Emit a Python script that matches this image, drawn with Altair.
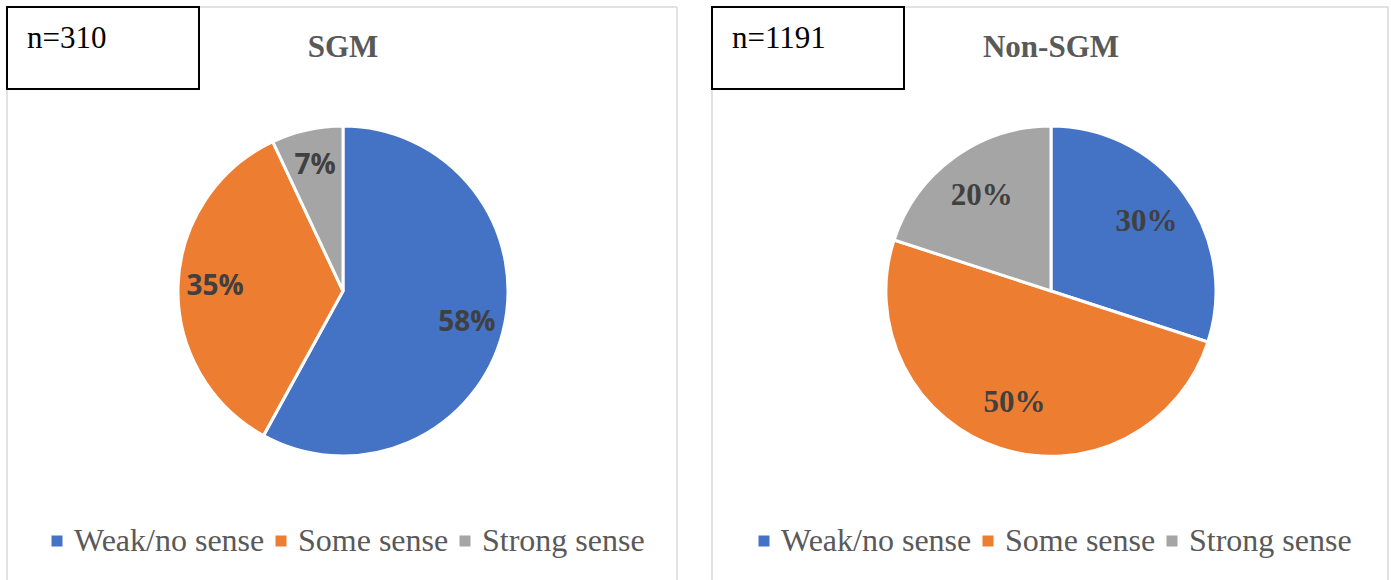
import altair as alt
import pandas as pd

categories = ["Weak/no sense", "Some sense", "Strong sense"]
sgm_values = [58, 35, 7]
nonsgm_values = [30, 50, 20]
colors = ["#4472C4", "#ED7D31", "#A5A5A5"]
panel_titles = ["SGM", "Non-SGM"]
n_labels = ["n=310", "n=1191"]

PANEL_H = 580


def panel(values, title, nlabel, width, cx, label_font, label_size, label_radius, legend_x):
    df = pd.DataFrame({
        "category": categories,
        "value": values,
        "order": list(range(len(categories))),
        "label": [f"{v}%" for v in values],
    })
    cy = 284
    base = alt.Chart(df)
    color = alt.Color(
        "category:N",
        scale=alt.Scale(domain=categories, range=colors),
        legend=alt.Legend(
            orient="none", legendX=legend_x, legendY=518, direction="horizontal",
            title=None, symbolType="square", symbolSize=121, symbolStrokeWidth=0,
            labelFont="Liberation Serif", labelFontSize=32, labelColor="#595959",
            labelOffset=1, columnPadding=-2, padding=0, labelLimit=400,
        ),
    )
    theta = alt.Theta("value:Q", stack=True)
    arcs = base.mark_arc(outerRadius=165, stroke="white", strokeWidth=3).encode(
        theta=theta, color=color, order=alt.Order("order:Q"),
        x=alt.value(cx), y=alt.value(cy),
    )
    labels = base.mark_text(
        radius=label_radius, font=label_font, fontSize=label_size,
        fontWeight="bold", color="#404040",
    ).encode(
        theta=theta, order=alt.Order("order:Q"), text="label:N",
        x=alt.value(cx), y=alt.value(cy),
    )
    ndf = pd.DataFrame({"n": [nlabel], "t": [title]})
    border_style = dict(color="#D9D9D9", strokeWidth=1.5)
    left_rule = alt.Chart(ndf).mark_rule(**border_style).encode(
        x=alt.value(0), y=alt.value(0), y2=alt.value(PANEL_H)
    )
    right_rule = alt.Chart(ndf).mark_rule(**border_style).encode(
        x=alt.value(width), y=alt.value(0), y2=alt.value(PANEL_H)
    )
    top_rule = alt.Chart(ndf).mark_rule(**border_style).encode(
        x=alt.value(0), x2=alt.value(width), y=alt.value(0)
    )
    box = alt.Chart(ndf).mark_rect(fill="white", stroke="black", strokeWidth=2).encode(
        x=alt.value(0), x2=alt.value(192), y=alt.value(0), y2=alt.value(82)
    )
    ntext = alt.Chart(ndf).mark_text(
        align="left", baseline="alphabetic", font="Liberation Serif",
        fontSize=31, color="black",
    ).encode(x=alt.value(20), y=alt.value(41), text="n:N")
    ttext = alt.Chart(ndf).mark_text(
        align="center", baseline="alphabetic", font="Liberation Serif",
        fontSize=31, fontWeight="bold", color="#595959",
    ).encode(x=alt.value(cx), y=alt.value(50), text="t:N")
    return alt.layer(
        left_rule, right_rule, top_rule, arcs, labels, box, ntext, ttext
    ).properties(width=width, height=560)


p1 = panel(sgm_values, panel_titles[0], n_labels[0], 670, 336, "Open Sans", 28, 128, 34)
p2 = panel(nonsgm_values, panel_titles[1], n_labels[1], 676, 339, "Liberation Serif", 31, 118, 36)

chart = (
    alt.hconcat(p1, p2, spacing=33)
    .resolve_scale(color="independent")
    .resolve_legend(color="independent")
    .properties(padding={"left": 6, "top": 6, "right": 0, "bottom": 0}, background="white")
    .configure_view(stroke=None, strokeWidth=0)
)

chart.save("out.html", embed_options={"renderer": "svg", "actions": False})
